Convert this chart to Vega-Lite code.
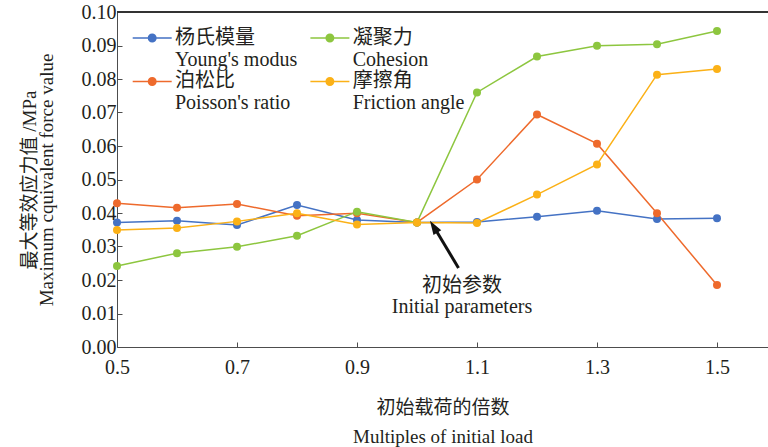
{
  "$schema": "https://vega.github.io/schema/vega-lite/v6.json",
  "width": 651,
  "height": 335,
  "autosize": {"type": "none"},
  "padding": {"left": 117, "top": 12, "right": 0, "bottom": 100},
  "background": "white",
  "config": {
    "view": {"stroke": null},
    "font": "'Liberation Serif', 'Noto Sans CJK SC', serif",
    "axis": {
      "grid": false,
      "domainColor": "#4d4d4d",
      "tickColor": "#4d4d4d",
      "labelColor": "#231f20",
      "titleColor": "#231f20",
      "labelFontSize": 20,
      "labelFont": "'Liberation Serif', 'Noto Sans CJK SC', serif",
      "titleFont": "'Liberation Serif', 'Noto Sans CJK SC', serif",
      "titleFontWeight": "normal",
      "labelOverlap": false,
      "labelFlush": false,
      "tickSize": -5
    },
    "legend": {
      "labelFont": "'Liberation Serif', 'Noto Sans CJK SC', serif"
    }
  },
  "datasets": {
    "main": [
      {"load": 0.5, "value": 0.0372, "series": "杨氏模量"},
      {"load": 0.6, "value": 0.0377, "series": "杨氏模量"},
      {"load": 0.7, "value": 0.0364, "series": "杨氏模量"},
      {"load": 0.8, "value": 0.0424, "series": "杨氏模量"},
      {"load": 0.9, "value": 0.0379, "series": "杨氏模量"},
      {"load": 1.0, "value": 0.0372, "series": "杨氏模量"},
      {"load": 1.1, "value": 0.0373, "series": "杨氏模量"},
      {"load": 1.2, "value": 0.0389, "series": "杨氏模量"},
      {"load": 1.3, "value": 0.0407, "series": "杨氏模量"},
      {"load": 1.4, "value": 0.0382, "series": "杨氏模量"},
      {"load": 1.5, "value": 0.0384, "series": "杨氏模量"},
      {"load": 0.5, "value": 0.0429, "series": "泊松比"},
      {"load": 0.6, "value": 0.0416, "series": "泊松比"},
      {"load": 0.7, "value": 0.0427, "series": "泊松比"},
      {"load": 0.8, "value": 0.0392, "series": "泊松比"},
      {"load": 0.9, "value": 0.0399, "series": "泊松比"},
      {"load": 1.0, "value": 0.0372, "series": "泊松比"},
      {"load": 1.1, "value": 0.0500, "series": "泊松比"},
      {"load": 1.2, "value": 0.0694, "series": "泊松比"},
      {"load": 1.3, "value": 0.0607, "series": "泊松比"},
      {"load": 1.4, "value": 0.0399, "series": "泊松比"},
      {"load": 1.5, "value": 0.0185, "series": "泊松比"},
      {"load": 0.5, "value": 0.0242, "series": "凝聚力"},
      {"load": 0.6, "value": 0.0280, "series": "凝聚力"},
      {"load": 0.7, "value": 0.0299, "series": "凝聚力"},
      {"load": 0.8, "value": 0.0332, "series": "凝聚力"},
      {"load": 0.9, "value": 0.0404, "series": "凝聚力"},
      {"load": 1.0, "value": 0.0372, "series": "凝聚力"},
      {"load": 1.1, "value": 0.0760, "series": "凝聚力"},
      {"load": 1.2, "value": 0.0867, "series": "凝聚力"},
      {"load": 1.3, "value": 0.0899, "series": "凝聚力"},
      {"load": 1.4, "value": 0.0904, "series": "凝聚力"},
      {"load": 1.5, "value": 0.0943, "series": "凝聚力"},
      {"load": 0.5, "value": 0.0349, "series": "摩擦角"},
      {"load": 0.6, "value": 0.0355, "series": "摩擦角"},
      {"load": 0.7, "value": 0.0375, "series": "摩擦角"},
      {"load": 0.8, "value": 0.0399, "series": "摩擦角"},
      {"load": 0.9, "value": 0.0366, "series": "摩擦角"},
      {"load": 1.0, "value": 0.0372, "series": "摩擦角"},
      {"load": 1.1, "value": 0.0370, "series": "摩擦角"},
      {"load": 1.2, "value": 0.0455, "series": "摩擦角"},
      {"load": 1.3, "value": 0.0545, "series": "摩擦角"},
      {"load": 1.4, "value": 0.0813, "series": "摩擦角"},
      {"load": 1.5, "value": 0.0830, "series": "摩擦角"}
    ],
    "arrow": [
      {"load": 1.0692, "value": 0.0236, "load2": 1.0278, "value2": 0.03594}
    ],
    "arrowhead": [
      {"load": 1.0278, "value": 0.03594}
    ],
    "notes": [
      {"load": 1.075, "value": 0.0182, "text": "初始参数"},
      {"load": 1.075, "value": 0.0120, "text": "Initial parameters"}
    ],
    "border": [
      {"load": 0.5, "load2": 1.585, "value": 0.1}
    ]
  },
  "encoding": {
    "x": {
      "field": "load", "type": "quantitative",
      "scale": {"domain": [0.5, 1.585], "nice": false, "zero": false},
      "axis": {
        "values": [0.5, 0.7, 0.9, 1.1, 1.3, 1.5],
        "format": ".1f",
        "labelPadding": 15,
        "labelOverlap": false,
        "title": ["初始载荷的倍数", "Multiples of initial load"],
        "titleFontSize": 19,
        "titleLineHeight": 29,
        "titlePadding": 21
      }
    },
    "y": {
      "field": "value", "type": "quantitative",
      "scale": {"domain": [0, 0.1], "nice": false},
      "axis": {
        "values": [0, 0.01, 0.02, 0.03, 0.04, 0.05, 0.06, 0.07, 0.08, 0.09, 0.1],
        "format": ".2f",
        "labelPadding": 6,
        "labelOverlap": false,
        "title": ["最大等效应力值 /MPa", "Maximum cquivalent force value"],
        "titleFontSize": 19,
        "titleLineHeight": 17,
        "titlePadding": 25
      }
    }
  },
  "layer": [
    {
      "data": {"name": "main"},
      "mark": {"type": "line", "strokeWidth": 1.5},
      "encoding": {
        "color": {
          "field": "series", "type": "nominal",
          "scale": {"domain": ["杨氏模量", "泊松比", "凝聚力", "摩擦角"], "range": ["#4472C4", "#EE6A2C", "#8DC63F", "#FBB117"]},
          "legend": {
            "orient": "none",
            "legendX": 25.2,
            "legendY": 16,
            "columns": 2,
            "title": null,
            "padding": 0,
            "symbolType": "M-1.95,-0.075H1.95V0.075H-1.95Z M-0.45,0A0.45,0.45 0 1,1 0.45,0A0.45,0.45 0 1,1 -0.45,0Z",
            "symbolSize": 400,
            "symbolStrokeWidth": 0,
            "symbolOpacity": 1,
            "labelFontSize": 20,
            "labelColor": "#231f20",
            "labelBaseline": "middle",
            "labelOffset": 12.8,
            "labelLimit": 300,
            "columnPadding": 12.7,
            "rowPadding": 1.4,
            "labelExpr": "datum.label == '杨氏模量' ? ['杨氏模量', \"Young's modus\"] : datum.label == '凝聚力' ? ['凝聚力', 'Cohesion'] : datum.label == '泊松比' ? ['泊松比', \"Poisson's ratio\"] : ['摩擦角', 'Friction angle']"
          }
        },
        "detail": {"field": "series"}
      }
    },
    {
      "data": {"name": "main"},
      "mark": {"type": "point", "filled": true, "size": 64, "opacity": 1},
      "encoding": {
        "color": {
          "field": "series", "type": "nominal",
          "scale": {"domain": ["杨氏模量", "泊松比", "凝聚力", "摩擦角"], "range": ["#4472C4", "#EE6A2C", "#8DC63F", "#FBB117"]},
          "legend": {
            "orient": "none",
            "legendX": 25.2,
            "legendY": 16,
            "columns": 2,
            "title": null,
            "padding": 0,
            "symbolType": "M-1.95,-0.075H1.95V0.075H-1.95Z M-0.45,0A0.45,0.45 0 1,1 0.45,0A0.45,0.45 0 1,1 -0.45,0Z",
            "symbolSize": 400,
            "symbolStrokeWidth": 0,
            "symbolOpacity": 1,
            "labelFontSize": 20,
            "labelColor": "#231f20",
            "labelBaseline": "middle",
            "labelOffset": 12.8,
            "labelLimit": 300,
            "columnPadding": 12.7,
            "rowPadding": 1.4,
            "labelExpr": "datum.label == '杨氏模量' ? ['杨氏模量', \"Young's modus\"] : datum.label == '凝聚力' ? ['凝聚力', 'Cohesion'] : datum.label == '泊松比' ? ['泊松比', \"Poisson's ratio\"] : ['摩擦角', 'Friction angle']"
          }
        }
      }
    },
    {
      "data": {"name": "border"},
      "mark": {"type": "rule", "color": "#333333", "strokeWidth": 2},
      "encoding": {
        "x2": {"field": "load2"}
      }
    },
    {
      "data": {"name": "arrow"},
      "mark": {"type": "rule", "color": "#111111", "strokeWidth": 3},
      "encoding": {
        "x2": {"field": "load2"},
        "y2": {"field": "value2"}
      }
    },
    {
      "data": {"name": "arrowhead"},
      "mark": {"type": "point", "filled": true, "color": "#111111", "opacity": 1, "size": 196, "shape": "M0,-1L0.65,1L-0.65,1Z", "angle": 328},
      "encoding": {}
    },
    {
      "data": {"name": "notes"},
      "mark": {"type": "text", "fontSize": 20, "color": "#231f20", "align": "center", "baseline": "middle", "font": "'Liberation Serif', 'Noto Sans CJK SC', serif"},
      "encoding": {
        "text": {"field": "text"}
      }
    }
  ]
}
